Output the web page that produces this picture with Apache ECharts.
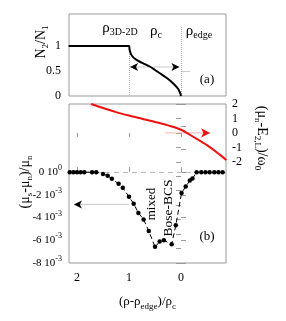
<!DOCTYPE html>
<html><head><meta charset="utf-8">
<script src="https://cdn.jsdelivr.net/npm/echarts@6/dist/echarts.min.js"></script>
<style>html,body{margin:0;padding:0;background:#fff}#c{width:286px;height:321px}</style>
</head><body><div id="c"></div>
<script>
// ---- data ----
const xTicks = [2, 1, 0];
const topTickLabels = [0, 0.5, 1];
const rightTickLabels = [-2, -1, 0, 1, 2];

// top panel: N2/N1 vs (rho-rho_edge)/rho_c
const topX = [2.16, 1.6, 1.0, 0.99, 0.97, 0.94, 0.88, 0.80, 0.70, 0.60, 0.50, 0.40, 0.30, 0.20, 0.12, 0.06, 0.03, 0.01, 0];
const topY = [1, 1, 1, 0.93, 0.86, 0.80, 0.74, 0.69, 0.64, 0.59, 0.52, 0.45, 0.38, 0.30, 0.22, 0.15, 0.09, 0.04, 0];

// bottom panel: (mu_s-mu_n)/mu_n (dots, left axis)
const dotX = [2.14, 2.07, 2.0, 1.93, 1.86, 1.71, 1.63, 1.50, 1.41, 1.33, 1.20, 1.12, 1.00, 0.91, 0.82, 0.72, 0.62, 0.50, 0.41, 0.33, 0.18, 0.10, -0.01, -0.09, -0.17, -0.22, -0.30, -0.39, -0.47, -0.55, -0.64, -0.72, -0.80];
const dotY = [0, 0, 0, 0, 0, 0, 0, -0.00016, -0.00031, -0.00059, -0.00103, -0.00138, -0.00217, -0.00278, -0.00359, -0.00416, -0.00518, -0.00658, -0.00611, -0.0060, -0.00635, -0.00468, -0.00183, -0.00127, -0.00074, -0.00057, 0, 0, 0, 0, 0, 0, 0];

// bottom panel: (mu_n - E_2,L)/omega_0 (red, right axis)
const redX = [1.73, 1.5, 1.25, 1.0, 0.75, 0.5, 0.25, 0, -0.25, -0.5, -0.75, -0.87];
const redY = [2.0, 1.72, 1.44, 1.2, 0.98, 0.76, 0.52, 0.22, -0.3, -0.85, -1.52, -1.87];

// guide arrows (from, to)
const arrowTopX = [0.98, 0.03], arrowTopY = 0.58;
const arrowBotX = [1.0, 2.06], arrowBotY = -0.00284;
const arrowRedX = [0.31, -0.56], arrowRedY = 0;

const F = 'Liberation Serif, Times New Roman, serif';
const zip = (a, b) => a.map((v, i) => [v, b[i]]);
const sup = {fontSize: 8, fontFamily: F, verticalAlign: 'top', lineHeight: 8, color: '#000'};

const chart = echarts.init(document.getElementById('c'), null, {renderer: 'canvas'});
const xRange = {min: -0.865, max: 2.154, inverse: true};
const gray = '#999';

function txt(x, y, text, size, rot) {
  const ss = Math.round(size * 0.66);
  return {
    type: 'text', x: x, y: y, rotation: rot || 0, z: 100,
    style: {
      text: text, fontSize: size, fontFamily: F, fill: '#000',
      align: 'center', verticalAlign: 'middle', lineHeight: 18,
      rich: {s: {fontSize: ss, fontFamily: F, verticalAlign: 'bottom', lineHeight: ss, fill: '#000'}}
    }
  };
}

// arrow: line from a to b, head at b
function arrow(xIdx, yIdx, xs, y, lineColor, headColor, rot, size) {
  return {
    type: 'line', xAxisIndex: xIdx, yAxisIndex: yIdx, silent: true, z: 4,
    lineStyle: {color: lineColor, width: 1}, showSymbol: true, showAllSymbol: true,
    itemStyle: {color: headColor},
    data: [
      {value: [xs[0], y], symbol: 'none'},
      {value: [xs[1], y], symbol: 'arrow', symbolSize: size, symbolRotate: rot}
    ]
  };
}
function dblArrow(xIdx, yIdx, xs, y, lineColor, headColor, size) {
  return {
    type: 'line', xAxisIndex: xIdx, yAxisIndex: yIdx, silent: true, z: 4,
    lineStyle: {color: lineColor, width: 1}, showSymbol: true, showAllSymbol: true,
    itemStyle: {color: headColor},
    data: [
      {value: [xs[0], y], symbol: 'arrow', symbolSize: size, symbolRotate: 90},
      {value: [xs[1], y], symbol: 'arrow', symbolSize: size, symbolRotate: -90}
    ]
  };
}

chart.setOption({
  animation: false,
  grid: [
    {left: 69, top: 14, width: 157, height: 82, show: true, borderColor: gray, borderWidth: 1},
    {left: 69, top: 104, width: 157, height: 159, show: true, borderColor: gray, borderWidth: 1}
  ],
  xAxis: [
    Object.assign({type: 'value', gridIndex: 0, axisLine: {show: false}, axisTick: {show: false}, axisLabel: {show: false}, splitLine: {show: false}}, xRange),
    Object.assign({type: 'value', gridIndex: 1, position: 'bottom', axisLine: {show: false},
      axisTick: {show: true, inside: true, length: 5, lineStyle: {color: gray}, customValues: xTicks},
      axisLabel: {show: true, customValues: xTicks, margin: 9, fontSize: 12, fontFamily: F, color: '#000'},
      splitLine: {show: false},
      name: '(ρ-ρ{s|edge})/ρ{s|c}', nameLocation: 'middle', nameGap: 30,
      nameTextStyle: {fontSize: 13, fontFamily: F, color: '#000', lineHeight: 18,
        rich: {s: {fontSize: 9, fontFamily: F, verticalAlign: 'bottom', lineHeight: 9}}}
    }, xRange),
    Object.assign({type: 'value', gridIndex: 1, position: 'top', axisLine: {show: false},
      axisTick: {show: true, inside: true, length: 4, lineStyle: {color: gray}, customValues: xTicks},
      axisLabel: {show: false}, splitLine: {show: false}}, xRange)
  ],
  yAxis: [
    {type: 'value', gridIndex: 0, min: 0, max: 1.64, axisLine: {show: false},
      axisTick: {show: true, inside: true, length: 9, lineStyle: {color: '#ccc'}, customValues: [0.5]},
      axisLabel: {customValues: topTickLabels, margin: 8, fontSize: 12, fontFamily: F, color: '#000'},
      splitLine: {show: false}},
    {type: 'value', gridIndex: 1, min: -0.008, max: 0.006, interval: 0.002, axisLine: {show: false},
      axisTick: {show: true, inside: true, length: 5, lineStyle: {color: gray}},
      axisLabel: {margin: 7, fontSize: 11, fontFamily: F, color: '#000',
        formatter: v => { const k = Math.round(v * 1000); if (k > 0) return ''; if (k === 0) return '{b|0 10}{p|0}'; return '{b|' + k + ' 10}{p|-3}'; },
        rich: {b: {fontSize: 11, fontFamily: F, lineHeight: 16, verticalAlign: 'middle'}, p: Object.assign({}, sup)}},
      splitLine: {show: false}},
    {type: 'value', gridIndex: 1, position: 'right', min: -9, max: 2, interval: 1, axisLine: {show: false},
      axisTick: {show: true, inside: true, length: 5, lineStyle: {color: gray}},
      axisLabel: {margin: 6, fontSize: 12, fontFamily: F, color: '#000',
        formatter: v => (rightTickLabels.indexOf(v) >= 0 ? String(v) : '')},
      splitLine: {show: false}}
  ],
  series: [
    dblArrow(0, 0, arrowTopX, arrowTopY, '#c8c8c8', '#000', [6, 8]),
    {type: 'line', xAxisIndex: 0, yAxisIndex: 0, data: zip(topX, topY), symbol: 'none', smooth: 0.2,
      lineStyle: {color: '#000', width: 2}, z: 5,
      markLine: {silent: true, symbol: 'none', label: {show: false}, animation: false,
        data: [
          [{coord: [1, 0.92], lineStyle: {color: '#aaa', type: 'dotted', width: 1}}, {coord: [1, 0]}],
          [{coord: [0, 1.38], lineStyle: {color: '#aaa', type: 'dotted', width: 1}}, {coord: [0, 0]}]
        ]}},
    {type: 'line', xAxisIndex: 1, yAxisIndex: 1, data: zip(dotX, dotY), symbol: 'circle', symbolSize: 4.5,
      itemStyle: {color: '#000'}, lineStyle: {color: '#000', width: 1, type: [5, 3]}, z: 5,
      markLine: {silent: true, symbol: 'none', label: {show: false}, animation: false,
        data: [
          [{coord: [2.154, 0], lineStyle: {color: '#bbb', type: [5, 4], width: 1}}, {coord: [-0.865, 0]}]
        ]}},
    arrow(1, 1, arrowBotX, arrowBotY, '#c8c8c8', '#000', 90, [6, 8]),
    arrow(1, 2, arrowRedX, arrowRedY, '#f8b4b4', '#f01010', -90, [7, 9]),
    {type: 'line', xAxisIndex: 1, yAxisIndex: 2, data: zip(redX, redY), symbol: 'none', smooth: 0.3,
      lineStyle: {color: '#f01010', width: 2}, z: 6}
  ],
  graphic: [
    txt(41, 42, 'N{s|2}/N{s|1}', 14, Math.PI / 2),
    txt(25, 182, '(μ{s|s}-μ{s|n})/μ{s|n}', 14, Math.PI / 2),
    txt(262, 138, '(μ{s|n}-E{s|2,L})/ω{s|0}', 14, -Math.PI / 2),
    txt(120, 28, 'ρ{s|3D-2D}', 15),
    txt(156, 31, 'ρ{s|c}', 15),
    txt(199, 31, 'ρ{s|edge}', 15),
    txt(207, 80, '(a)', 13),
    txt(207, 237, '(b)', 13),
    txt(152, 204, 'mixed', 13, Math.PI / 2),
    txt(168, 208, 'Bose-BCS', 13.5, Math.PI / 2)
  ]
});
</script></body></html>
